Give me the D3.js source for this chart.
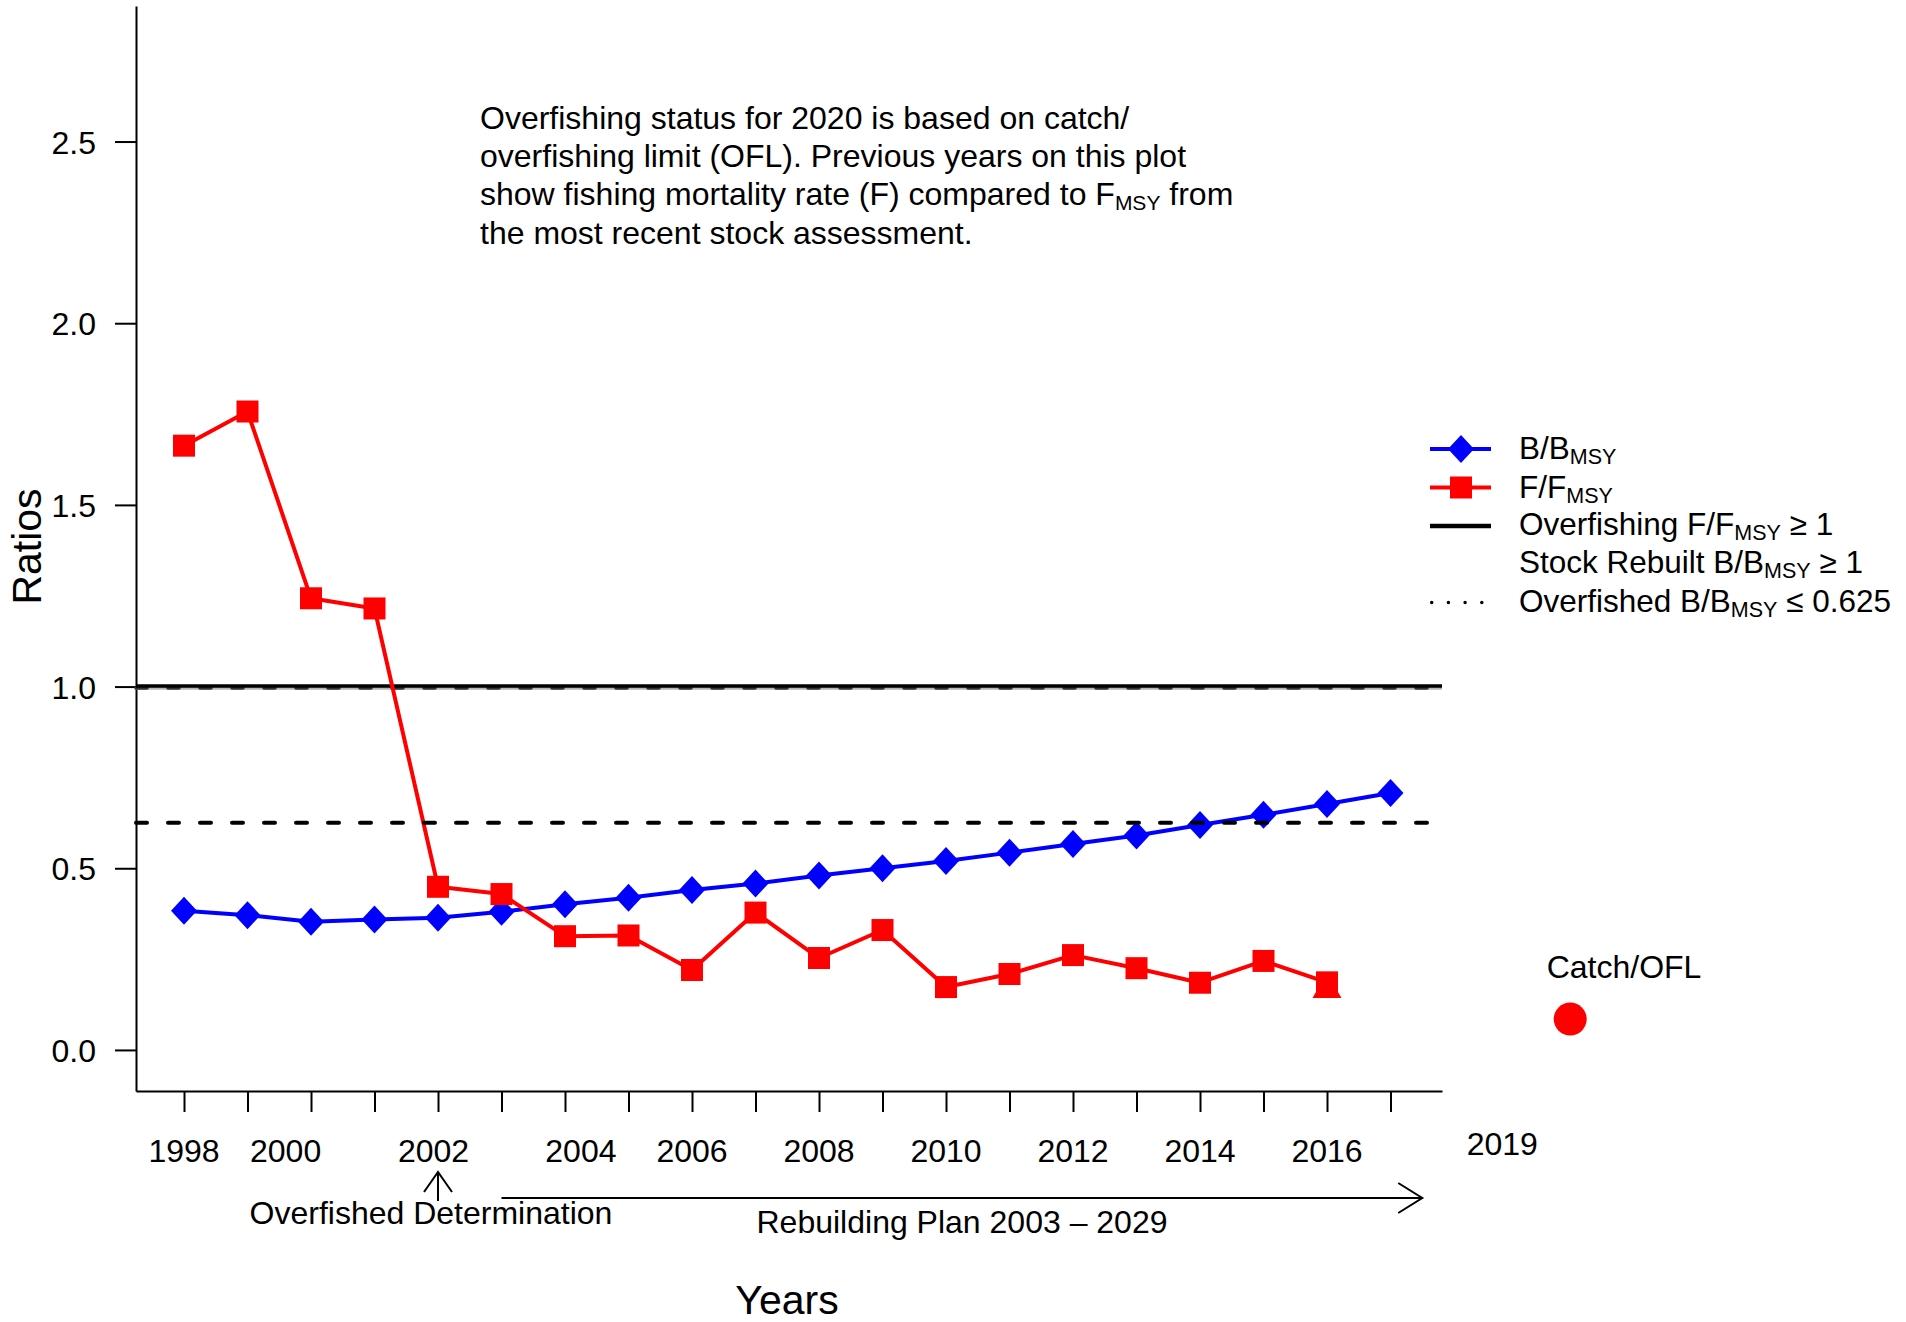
<!DOCTYPE html>
<html>
<head>
<meta charset="utf-8">
<script src="https://cdn.jsdelivr.net/npm/d3@7"></script>
<style>
  body { margin: 0; background: #fff; }
  text { font-family: "Liberation Sans", Arial, sans-serif; fill: #000; }
</style>
</head>
<body>
<div id="chart"></div>
<script>
//data
var years = [1998,1999,2000,2001,2002,2003,2004,2005,2006,2007,2008,2009,2010,2011,2012,2013,2014,2015,2016,2017];
var bRatio = [0.383,0.371,0.353,0.359,0.364,0.380,0.401,0.419,0.440,0.458,0.480,0.500,0.520,0.543,0.567,0.590,0.619,0.647,0.677,0.707];
var fYears = [1998,1999,2000,2001,2002,2003,2004,2005,2006,2007,2008,2009,2010,2011,2012,2013,2014,2015,2016];
var fRatio = [1.663,1.757,1.243,1.215,0.449,0.429,0.313,0.315,0.220,0.378,0.253,0.330,0.173,0.209,0.261,0.225,0.185,0.245,0.186];
var triYear = [2016];
var triValue = [0.166];
var catchYear = [2019.83];
var catchOfl = [0.085];
var yTicks = [0, 0.5, 1, 1.5, 2, 2.5];
var xLabels = ['1998','2000','2002','2004','2006','2008','2010','2012','2014','2016','2019'];
var xLabelAt = [1998, 1999.6, 2001.93, 2004.25, 2006, 2008, 2010, 2012, 2014, 2016, 2018.76];
var overfishLimit = 1;
var overfishedLimit = 0.625;

var W = 1906, H = 1322;
var svg = d3.select('#chart').append('svg').attr('width', W).attr('height', H);

var x = d3.scaleLinear().domain([1997.244, 2017.811]).range([136, 1442]);
var y = d3.scaleLinear().domain([-0.113, 2.873]).range([1091, 6]);

//axes
var yAxis = svg.append('g')
	.attr('transform', 'translate(136,0)')
	.call(d3.axisLeft(y).tickValues(yTicks).tickFormat(d3.format('.1f')).tickSize(21).tickSizeOuter(0).tickPadding(19));
yAxis.selectAll('path,line').attr('stroke', '#000').attr('stroke-width', 2);
yAxis.selectAll('text').attr('font-size', 32).attr('font-family', '"Liberation Sans", Arial, sans-serif').attr('dy', '0.36em');

var xAxis = svg.append('g')
	.attr('transform', 'translate(0,1091)')
	.call(d3.axisBottom(x).tickValues(years).tickFormat('').tickSize(21).tickSizeOuter(0));
xAxis.selectAll('path,line').attr('stroke', '#000').attr('stroke-width', 2);

svg.selectAll('text.xlab').data(xLabels).enter()
	.append('text').attr('class', 'xlab')
	.attr('x', function(d,i){ return x(xLabelAt[i]); })
	.attr('y', function(d){ return d === '2019' ? 1155 : 1162; })
	.attr('text-anchor', 'middle').attr('font-size', 32)
	.text(function(d){ return d; });

//axis titles
svg.append('text').attr('transform', 'translate(41,546.5) rotate(-90)')
	.attr('text-anchor', 'middle').attr('font-size', 41).text('Ratios');
svg.append('text').attr('x', 787).attr('y', 1314)
	.attr('text-anchor', 'middle').attr('font-size', 41).text('Years');

//reference line at 1
var y1 = y(overfishLimit);
svg.append('line').attr('x1', x.range()[0]).attr('x2', x.range()[1])
	.attr('y1', y1 + 1.5).attr('y2', y1 + 1.5)
	.attr('stroke', '#b4b4b4').attr('stroke-width', 3.5);
svg.append('line').attr('x1', x.range()[0]).attr('x2', x.range()[1])
	.attr('y1', y1 + 1.5).attr('y2', y1 + 1.5)
	.attr('stroke', '#333').attr('stroke-width', 3.5)
	.attr('stroke-dasharray', '11,21').attr('stroke-linecap', 'round');
svg.append('line').attr('x1', x.range()[0]).attr('x2', x.range()[1])
	.attr('y1', y1 - 0.5).attr('y2', y1 - 0.5)
	.attr('stroke', '#000').attr('stroke-width', 3.5);

//series
var line = d3.line()
	.x(function(d){ return x(d[0]); })
	.y(function(d){ return y(d[1]); });

var bData = years.map(function(d,i){ return [d, bRatio[i]]; });
var fData = fYears.map(function(d,i){ return [d, fRatio[i]]; });

svg.append('path').datum(bData).attr('d', line)
	.attr('fill', 'none').attr('stroke', '#0000ff').attr('stroke-width', 4).attr('stroke-linejoin', 'round');
svg.selectAll('path.diamond').data(bData).enter()
	.append('path').attr('class', 'diamond')
	.attr('d', 'M0,-14L13,0L0,14L-13,0Z')
	.attr('transform', function(d){ return 'translate(' + x(d[0]) + ',' + y(d[1]) + ')'; })
	.attr('fill', '#0000ff');

svg.selectAll('path.tri').data(triYear).enter()
	.append('path').attr('class', 'tri')
	.attr('d', d3.symbol().type(d3.symbolTriangle).size(364))
	.attr('transform', function(d,i){ return 'translate(' + x(d) + ',' + y(triValue[i]) + ')'; })
	.attr('fill', '#ff0000');

svg.append('path').datum(fData).attr('d', line)
	.attr('fill', 'none').attr('stroke', '#ff0000').attr('stroke-width', 4).attr('stroke-linejoin', 'round');
svg.selectAll('rect.sq').data(fData).enter()
	.append('rect').attr('class', 'sq')
	.attr('x', function(d){ return x(d[0]) - 11; })
	.attr('y', function(d){ return y(d[1]) - 11; })
	.attr('width', 22).attr('height', 22)
	.attr('fill', '#ff0000');

//overfished threshold, drawn on top
svg.append('line').attr('x1', x.range()[0]).attr('x2', x.range()[1])
	.attr('y1', y(overfishedLimit)).attr('y2', y(overfishedLimit))
	.attr('stroke', '#000').attr('stroke-width', 4)
	.attr('stroke-dasharray', '11,21').attr('stroke-linecap', 'round');

//catch / OFL point
svg.selectAll('circle.catch').data(catchYear).enter()
	.append('circle').attr('class', 'catch')
	.attr('cx', function(d){ return x(d); })
	.attr('cy', function(d,i){ return y(catchOfl[i]); })
	.attr('r', 16.5).attr('fill', '#ff0000');
svg.append('text').attr('x', 1624).attr('y', 978)
	.attr('text-anchor', 'middle').attr('font-size', 32).text('Catch/OFL');

//note
var note = svg.append('text').attr('font-size', 32);
note.append('tspan').attr('x', 480).attr('y', 129).text('Overfishing status for 2020 is based on catch/');
note.append('tspan').attr('x', 480).attr('y', 167.2).text('overfishing limit (OFL). Previous years on this plot');
note.append('tspan').attr('x', 480).attr('y', 205.4).text('show fishing mortality rate (F) compared to F');
note.append('tspan').attr('dy', 5).attr('font-size', 21).text('MSY');
note.append('tspan').attr('dy', -5).text(' from');
note.append('tspan').attr('x', 480).attr('y', 243.6).text('the most recent stock assessment.');

//arrows under the axis
var arrowG = svg.append('g').attr('stroke', '#000').attr('stroke-width', 2).attr('fill', 'none');
var ax = x(2002);
arrowG.append('line').attr('x1', ax).attr('x2', ax).attr('y1', 1201).attr('y2', 1172);
arrowG.append('path').attr('d', 'M' + (ax - 14) + ',1192L' + ax + ',1172L' + (ax + 14) + ',1192');

var rx0 = x(2003), rx1 = x(2017.5);
arrowG.append('line').attr('x1', rx0).attr('x2', rx1).attr('y1', 1198).attr('y2', 1198);
arrowG.append('path').attr('d', 'M' + (rx1 - 24) + ',1183L' + rx1 + ',1198L' + (rx1 - 24) + ',1213');

svg.append('text').attr('x', 431).attr('y', 1224).attr('text-anchor', 'middle')
	.attr('font-size', 32).text('Overfished Determination');
svg.append('text').attr('x', 962).attr('y', 1233).attr('text-anchor', 'middle')
	.attr('font-size', 32).text('Rebuilding Plan 2003 \u2013 2029');

//legend
var lg = svg.append('g');
var lx0 = 1430, lx1 = 1491, lmx = 1461, ltx = 1519;
var rowBase = [459, 497.5, 535, 573, 611.5];

lg.append('line').attr('x1', lx0).attr('x2', lx1).attr('y1', rowBase[0] - 10).attr('y2', rowBase[0] - 10)
	.attr('stroke', '#0000ff').attr('stroke-width', 4);
lg.append('path').attr('d', 'M0,-14L13,0L0,14L-13,0Z')
	.attr('transform', 'translate(' + lmx + ',' + (rowBase[0] - 10) + ')').attr('fill', '#0000ff');

lg.append('line').attr('x1', lx0).attr('x2', lx1).attr('y1', rowBase[1] - 10).attr('y2', rowBase[1] - 10)
	.attr('stroke', '#ff0000').attr('stroke-width', 4);
lg.append('rect').attr('x', lmx - 11).attr('y', rowBase[1] - 21).attr('width', 22).attr('height', 22).attr('fill', '#ff0000');

lg.append('line').attr('x1', lx0).attr('x2', lx1).attr('y1', rowBase[2] - 9).attr('y2', rowBase[2] - 9)
	.attr('stroke', '#000').attr('stroke-width', 4.5);

lg.append('line').attr('x1', 1431.7).attr('x2', 1482).attr('y1', rowBase[4] - 9).attr('y2', rowBase[4] - 9)
	.attr('stroke', '#000').attr('stroke-width', 3.5)
	.attr('stroke-dasharray', '0,16.7').attr('stroke-linecap', 'round');

var legendRows = [
	['B/B', 'MSY', ''],
	['F/F', 'MSY', ''],
	['Overfishing F/F', 'MSY', ' \u2265 1'],
	['Stock Rebuilt B/B', 'MSY', ' \u2265 1'],
	['Overfished B/B', 'MSY', ' \u2264 0.625']
];
legendRows.forEach(function(r, i){
	var t = lg.append('text').attr('x', ltx).attr('y', rowBase[i]).attr('font-size', 31.5);
	t.append('tspan').text(r[0]);
	t.append('tspan').attr('dy', 5).attr('font-size', 21.5).text(r[1]);
	if (r[2]) t.append('tspan').attr('dy', -5).text(r[2]);
});
</script>
</body>
</html>
